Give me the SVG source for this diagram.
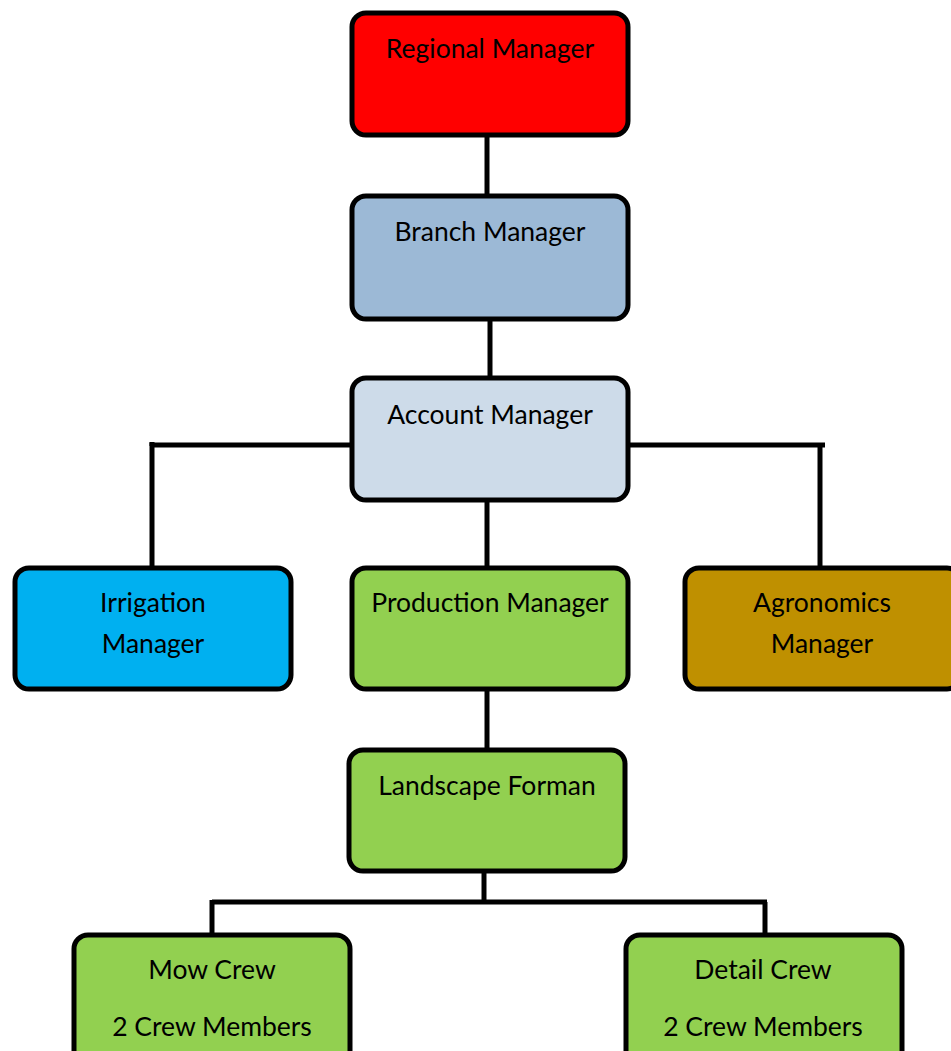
<svg xmlns="http://www.w3.org/2000/svg" width="951" height="1051" viewBox="0 0 951 1051">
<style>
.box{stroke:#000;stroke-width:5}
.t{font-family:Lato,"Open Sans","Liberation Sans",sans-serif;font-size:26.5px;fill:#000;text-anchor:middle}
.c{stroke:#000;stroke-width:5;fill:none}
</style>
<rect width="951" height="1051" fill="#fff"/>
<g id="connectors">
<line class="c" x1="487" y1="135" x2="487" y2="196"/>
<line class="c" x1="490" y1="319" x2="490" y2="378"/>
<line class="c" x1="487" y1="500" x2="487" y2="567"/>
<line class="c" x1="487" y1="689" x2="487" y2="750"/>
<polyline class="c" points="351,445 152,445 152,567"/>
<line class="c" x1="152" y1="442" x2="152" y2="446"/>
<polyline class="c" points="629,445 825,445"/>
<line class="c" x1="820" y1="445" x2="820" y2="567"/>
<line class="c" x1="484" y1="872" x2="484" y2="902"/>
<line class="c" x1="212" y1="902" x2="767" y2="902"/>
<line class="c" x1="212" y1="900" x2="212" y2="934"/>
<line class="c" x1="765" y1="902" x2="765" y2="934"/>
</g>
<g id="regional">
<rect class="box" x="352" y="13" width="276" height="122" rx="14" fill="#ff0000"/>
<text class="t" x="490" y="58">Regional Manager</text>
</g>
<g id="branch">
<rect class="box" x="352" y="196" width="276" height="123" rx="14" fill="#9cb9d6"/>
<text class="t" x="490" y="241">Branch Manager</text>
</g>
<g id="account">
<rect class="box" x="352" y="378" width="276" height="122" rx="14" fill="#cddbe9"/>
<text class="t" x="490" y="424">Account Manager</text>
</g>
<g id="irrigation">
<rect class="box" x="15" y="568" width="276" height="121" rx="14" fill="#00b0f0"/>
<text class="t" x="153" y="612">Irrigation</text>
<text class="t" x="153" y="653">Manager</text>
</g>
<g id="production">
<rect class="box" x="352" y="568" width="276" height="121" rx="14" fill="#92d050"/>
<text class="t" x="490" y="612">Production Manager</text>
</g>
<g id="agronomics">
<rect class="box" x="685" y="568" width="276" height="121" rx="14" fill="#bf9000"/>
<text class="t" x="822" y="612">Agronomics</text>
<text class="t" x="822" y="653">Manager</text>
</g>
<g id="landscape">
<rect class="box" x="349" y="750" width="276" height="121" rx="14" fill="#92d050"/>
<text class="t" x="487" y="795">Landscape Forman</text>
</g>
<g id="mow">
<rect class="box" x="74" y="935" width="276" height="130" rx="14" fill="#92d050"/>
<text class="t" x="212" y="979">Mow Crew</text>
<text class="t" x="212" y="1036">2 Crew Members</text>
</g>
<g id="detail">
<rect class="box" x="626" y="935" width="276" height="130" rx="14" fill="#92d050"/>
<text class="t" x="763" y="979">Detail Crew</text>
<text class="t" x="763" y="1036">2 Crew Members</text>
</g>
</svg>
